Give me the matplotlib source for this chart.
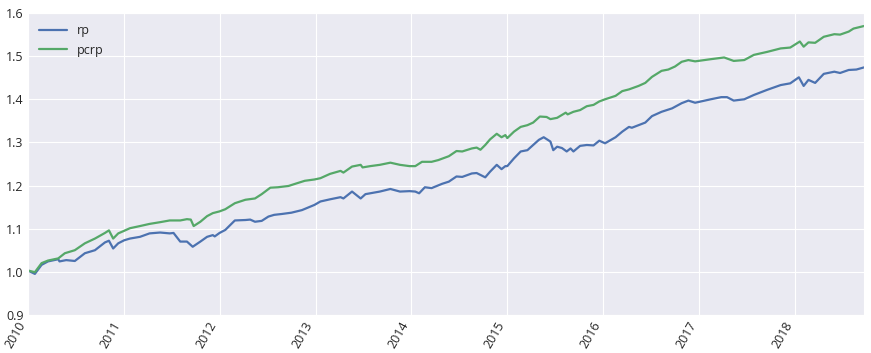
import matplotlib
matplotlib.use("Agg")
import matplotlib.pyplot as plt
import matplotlib.dates as mdates
import pandas as pd
import seaborn as sns

# readings, time in decimal years
rp_t = [2010.00, 2010.073, 2010.143, 2010.21, 2010.317, 2010.33, 2010.40, 2010.49,
        2010.595, 2010.70, 2010.804, 2010.846, 2010.89, 2010.943, 2011.005, 2011.065,
        2011.17, 2011.27, 2011.38, 2011.48, 2011.52, 2011.59, 2011.66, 2011.72,
        2011.80, 2011.87, 2011.93, 2011.95, 2012.00, 2012.06, 2012.16, 2012.27,
        2012.32, 2012.37, 2012.44, 2012.51, 2012.57, 2012.65, 2012.75, 2012.86,
        2012.99, 2013.05, 2013.15, 2013.26, 2013.29, 2013.38, 2013.47, 2013.52,
        2013.57, 2013.67, 2013.78, 2013.88, 2013.98, 2014.04, 2014.08, 2014.14,
        2014.21, 2014.32, 2014.39, 2014.47, 2014.53, 2014.63, 2014.68, 2014.77,
        2014.82, 2014.89, 2014.94, 2014.98, 2015.00, 2015.07, 2015.14, 2015.21,
        2015.27, 2015.33, 2015.38, 2015.45, 2015.48, 2015.52, 2015.57, 2015.62,
        2015.66, 2015.69, 2015.76, 2015.83, 2015.90, 2015.96, 2016.02, 2016.13,
        2016.20, 2016.27, 2016.30, 2016.37, 2016.44, 2016.51, 2016.61, 2016.72,
        2016.82, 2016.89, 2016.96, 2017.12, 2017.23, 2017.29, 2017.36, 2017.47,
        2017.57, 2017.71, 2017.85, 2017.95, 2018.04, 2018.09, 2018.14, 2018.21,
        2018.30, 2018.41, 2018.47, 2018.56, 2018.64, 2018.72]
rp_v = [1.003, 0.995, 1.016, 1.024, 1.029, 1.024, 1.027, 1.025,
        1.043, 1.050, 1.068, 1.072, 1.054, 1.066, 1.073, 1.077,
        1.081, 1.089, 1.091, 1.089, 1.090, 1.070, 1.070, 1.058,
        1.070, 1.081, 1.085, 1.082, 1.090, 1.097, 1.119, 1.120,
        1.121, 1.116, 1.118, 1.128, 1.132, 1.134, 1.137, 1.143,
        1.155, 1.163, 1.168, 1.173, 1.170, 1.186, 1.170, 1.180,
        1.182, 1.186, 1.192, 1.186, 1.187, 1.186, 1.182, 1.196,
        1.194, 1.204, 1.209, 1.221, 1.220, 1.228, 1.229, 1.219,
        1.232, 1.248, 1.238, 1.245, 1.245, 1.263, 1.279, 1.282,
        1.294, 1.306, 1.312, 1.302, 1.282, 1.290, 1.287, 1.279,
        1.286, 1.279, 1.292, 1.294, 1.293, 1.304, 1.298, 1.312,
        1.325, 1.336, 1.334, 1.340, 1.346, 1.361, 1.371, 1.379,
        1.391, 1.397, 1.392, 1.400, 1.405, 1.405, 1.397, 1.400,
        1.410, 1.422, 1.433, 1.437, 1.451, 1.431, 1.445, 1.438,
        1.459, 1.464, 1.461, 1.468, 1.469, 1.474]

pcrp_t = [2010.00, 2010.073, 2010.143, 2010.21, 2010.317, 2010.386, 2010.49, 2010.595,
          2010.70, 2010.804, 2010.846, 2010.89, 2010.943, 2011.005, 2011.065, 2011.17,
          2011.27, 2011.38, 2011.48, 2011.59, 2011.66, 2011.70, 2011.73, 2011.80,
          2011.87, 2011.93, 2012.00, 2012.06, 2012.16, 2012.27, 2012.37, 2012.44,
          2012.53, 2012.61, 2012.72, 2012.79, 2012.89, 2012.99, 2013.05, 2013.15,
          2013.26, 2013.29, 2013.38, 2013.47, 2013.49, 2013.57, 2013.67, 2013.78,
          2013.88, 2013.98, 2014.04, 2014.11, 2014.21, 2014.28, 2014.39, 2014.47,
          2014.53, 2014.63, 2014.68, 2014.72, 2014.77, 2014.82, 2014.89, 2014.94,
          2014.98, 2015.00, 2015.07, 2015.14, 2015.21, 2015.27, 2015.34, 2015.41,
          2015.45, 2015.52, 2015.61, 2015.63, 2015.69, 2015.76, 2015.83, 2015.90,
          2015.96, 2016.02, 2016.13, 2016.20, 2016.27, 2016.37, 2016.44, 2016.51,
          2016.61, 2016.68, 2016.75, 2016.82, 2016.89, 2016.96, 2017.12, 2017.26,
          2017.36, 2017.47, 2017.57, 2017.71, 2017.85, 2017.95, 2018.05, 2018.09,
          2018.14, 2018.21, 2018.30, 2018.41, 2018.47, 2018.56, 2018.61, 2018.72]
pcrp_v = [1.003, 0.999, 1.020, 1.026, 1.031, 1.043, 1.050, 1.066,
          1.077, 1.090, 1.096, 1.077, 1.089, 1.095, 1.101, 1.106,
          1.111, 1.115, 1.119, 1.119, 1.122, 1.121, 1.106, 1.116,
          1.129, 1.136, 1.140, 1.145, 1.159, 1.167, 1.170, 1.180,
          1.195, 1.196, 1.199, 1.204, 1.211, 1.214, 1.217, 1.227,
          1.234, 1.230, 1.244, 1.248, 1.242, 1.245, 1.248, 1.253,
          1.248, 1.245, 1.245, 1.255, 1.255, 1.259, 1.268, 1.280,
          1.279, 1.286, 1.288, 1.283, 1.294, 1.307, 1.320, 1.312,
          1.317, 1.310, 1.325, 1.336, 1.340, 1.346, 1.360, 1.359,
          1.354, 1.357, 1.369, 1.365, 1.371, 1.375, 1.384, 1.387,
          1.395, 1.400, 1.408, 1.419, 1.423, 1.431, 1.438, 1.452,
          1.466, 1.469, 1.476, 1.487, 1.491, 1.488, 1.493, 1.497,
          1.489, 1.491, 1.503, 1.510, 1.518, 1.520, 1.534, 1.522,
          1.532, 1.531, 1.545, 1.551, 1.550, 1.557, 1.564, 1.570]


def to_dates(years):
    out = []
    for y in years:
        yr = int(y)
        start = pd.Timestamp(year=yr, month=1, day=1)
        out.append(start + (y - yr) * pd.Timedelta(days=365))
    return out


sns.set_style("darkgrid")
plt.rcParams['font.family'] = ['Open Sans', 'DejaVu Sans']

fig = plt.figure(figsize=(8.71, 3.53), dpi=100)
ax = fig.add_axes([0.032, 0.108, 0.96, 0.855])

rp_d = to_dates(rp_t)
pcrp_d = to_dates(pcrp_t)
ax.plot(rp_d, rp_v, color='#4C72B0', lw=1.6, label='rp')
ax.plot(pcrp_d, pcrp_v, color='#55A868', lw=1.6, label='pcrp')

ax.set_ylim(0.9, 1.6)
ax.set_xlim(pd.Timestamp('2010-01-01'), pcrp_d[-1])
ax.xaxis.set_major_locator(mdates.YearLocator())
ax.xaxis.set_major_formatter(mdates.DateFormatter('%Y'))
plt.xticks(rotation=60, ha='right', fontsize=9)
plt.yticks(fontsize=9)
ax.tick_params(axis='both', length=0, pad=3, colors='.15')

ax.legend(loc='upper left', fontsize=9, frameon=False, handlelength=2.2)

fig.savefig('out.png', dpi=100)
